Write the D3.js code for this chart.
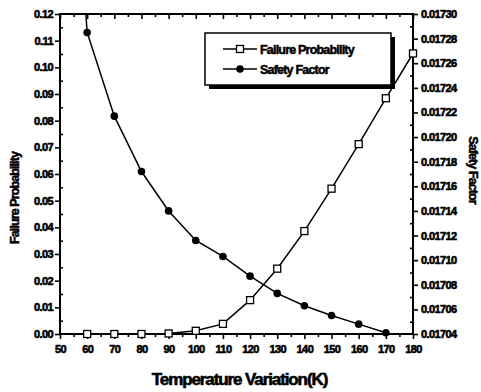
<!DOCTYPE html>
<html>
<head>
<meta charset="utf-8">
<script src="https://cdn.jsdelivr.net/npm/d3@7"></script>
<style>
  body { margin: 0; background: #fff; }
  svg text { font-family: "Liberation Sans", Arial, sans-serif; font-weight: bold; fill: #000; stroke: #000; stroke-width: 0.5px; }
</style>
</head>
<body>
<svg id="chart" width="481" height="392"></svg>
<script>
// Data
const temps = [50, 60, 70, 80, 90, 100, 110, 120, 130, 140, 150, 160, 170, 180];
const failureProb = [null, 0.0, 0.0, 0.0, 0.0002, 0.0012, 0.0038, 0.0127, 0.0245, 0.0386, 0.0545, 0.0712, 0.0884, 0.1052];
const safetyFactor = [0.01760, 0.017285, 0.017217, 0.017172, 0.017140, 0.017116, 0.017103, 0.017087, 0.017073, 0.017063, 0.017055, 0.017048, 0.017041, 0.017034];

const xTicks = d3.range(50, 181, 10);
const leftTicks = d3.range(0, 0.1201, 0.01);
const rightTicks = d3.range(0.01704, 0.017301, 0.00002);

const seriesNames = ["Failure Probability", "Safety Factor"];
const xTitle = "Temperature Variation(K)";

// Chart setup
const svg = d3.select("#chart");
const margin = { top: 14, right: 68, bottom: 58, left: 60 };
const width = 481, height = 392;

const x = d3.scaleLinear().domain([50, 180]).range([margin.left, width - margin.right]);
const yL = d3.scaleLinear().domain([0, 0.12]).range([height - margin.bottom, margin.top]);
const yR = d3.scaleLinear().domain([0.01704, 0.0173]).range([height - margin.bottom, margin.top]);

// clip for data lines
svg.append("clipPath").attr("id", "plot-clip")
  .append("rect")
  .attr("x", margin.left).attr("y", margin.top)
  .attr("width", x.range()[1] - margin.left)
  .attr("height", yL.range()[0] - margin.top);

// Axes helper
function styleAxis(g) {
  g.select(".domain").remove();
  g.selectAll(".tick line").attr("stroke", "#000").attr("stroke-width", 1.6);
  g.selectAll(".tick text")
    .style("font-family", "'Liberation Sans', Arial, sans-serif")
    .style("font-weight", "bold")
    .style("font-size", "11px")
    .style("letter-spacing", "-0.6px")
    .style("stroke", "#000")
    .style("stroke-width", "0.6px");
}

// minor ticks
const minorX = d3.range(55, 180, 10);
const minorL = d3.range(0.005, 0.12, 0.01);
const minorR = d3.range(0.01705, 0.0173, 0.00002);

// bottom axis
svg.append("g")
  .attr("transform", `translate(0,${yL.range()[0]})`)
  .call(d3.axisBottom(x).tickValues(xTicks).tickSize(5).tickPadding(6).tickFormat(d3.format("d")))
  .call(styleAxis);
svg.append("g")
  .attr("transform", `translate(0,${yL.range()[0]})`)
  .call(d3.axisBottom(x).tickValues(minorX).tickSize(3).tickFormat(""))
  .call(styleAxis);

// top axis (ticks inward, no labels)
svg.append("g")
  .attr("transform", `translate(0,${margin.top})`)
  .call(d3.axisBottom(x).tickValues(xTicks).tickSize(5).tickFormat(""))
  .call(styleAxis);
svg.append("g")
  .attr("transform", `translate(0,${margin.top})`)
  .call(d3.axisBottom(x).tickValues(minorX).tickSize(3).tickFormat(""))
  .call(styleAxis);

// left axis
svg.append("g")
  .attr("transform", `translate(${margin.left},0)`)
  .call(d3.axisLeft(yL).tickValues(leftTicks).tickSize(5).tickPadding(2).tickFormat(d3.format(".2f")))
  .call(styleAxis);
svg.append("g")
  .attr("transform", `translate(${margin.left},0)`)
  .call(d3.axisRight(yL).tickValues(minorL).tickSize(3).tickFormat(""))
  .call(styleAxis);

// right axis
const xr = x.range()[1];
svg.append("g")
  .attr("transform", `translate(${xr},0)`)
  .call(d3.axisRight(yR).tickValues(rightTicks).tickSize(5).tickPadding(3).tickFormat(d3.format(".5f")))
  .call(styleAxis);
svg.append("g")
  .attr("transform", `translate(${xr},0)`)
  .call(d3.axisLeft(yR).tickValues(minorR).tickSize(3).tickFormat(""))
  .call(styleAxis);

// frame
svg.append("rect")
  .attr("x", margin.left).attr("y", margin.top)
  .attr("width", xr - margin.left)
  .attr("height", yL.range()[0] - margin.top)
  .attr("fill", "none").attr("stroke", "#000").attr("stroke-width", 2);

// data
const failData = temps.map((t, i) => ({ t, v: failureProb[i] })).filter(d => d.v !== null);
const safeData = temps.map((t, i) => ({ t, v: safetyFactor[i] }));

const plot = svg.append("g").attr("clip-path", "url(#plot-clip)");

plot.append("path")
  .datum(failData)
  .attr("fill", "none").attr("stroke", "#000").attr("stroke-width", 1.5)
  .attr("d", d3.line().x(d => x(d.t)).y(d => yL(d.v)));

plot.append("path")
  .datum(safeData)
  .attr("fill", "none").attr("stroke", "#000").attr("stroke-width", 1.5)
  .attr("d", d3.line().x(d => x(d.t)).y(d => yR(d.v)));

svg.append("g").selectAll("rect")
  .data(failData)
  .join("rect")
  .attr("x", d => x(d.t) - 3.5).attr("y", d => yL(d.v) - 3.5)
  .attr("width", 7).attr("height", 7)
  .attr("fill", "#fff").attr("stroke", "#000").attr("stroke-width", 1.3);

svg.append("g").selectAll("circle")
  .data(safeData.filter(d => d.v >= 0.01704 && d.v <= 0.0173))
  .join("circle")
  .attr("cx", d => x(d.t)).attr("cy", d => yR(d.v))
  .attr("r", 3.8)
  .attr("fill", "#000");

// legend
const lg = svg.append("g");
lg.append("rect").attr("x", 209).attr("y", 37).attr("width", 186).attr("height", 52).attr("fill", "#000");
lg.append("rect").attr("x", 205).attr("y", 33).attr("width", 186).attr("height", 52)
  .attr("fill", "#fff").attr("stroke", "#000").attr("stroke-width", 1.5);

[49, 69].forEach((ly, i) => {
  lg.append("line").attr("x1", 223).attr("x2", 257).attr("y1", ly).attr("y2", ly)
    .attr("stroke", "#000").attr("stroke-width", 1.5);
  if (i === 0) {
    lg.append("rect").attr("x", 236.5).attr("y", ly - 3.5).attr("width", 7).attr("height", 7)
      .attr("fill", "#fff").attr("stroke", "#000").attr("stroke-width", 1.3);
  } else {
    lg.append("circle").attr("cx", 240).attr("cy", ly).attr("r", 3.8).attr("fill", "#000");
  }
  lg.append("text").attr("x", 260).attr("y", ly + 4.5)
    .style("font-size", "12.5px").style("letter-spacing", "-0.8px")
    .text(seriesNames[i]);
});

// axis titles
svg.append("text")
  .attr("x", (margin.left + xr) / 2 + 3).attr("y", 385)
  .attr("text-anchor", "middle")
  .style("font-size", "17px").style("letter-spacing", "-1.1px")
  .style("stroke-width", "0.6px")
  .text(xTitle);

svg.append("text")
  .attr("transform", "translate(19,198) rotate(-90)")
  .attr("text-anchor", "middle")
  .style("font-size", "12.5px").style("letter-spacing", "-0.9px")
  .text(seriesNames[0]);

svg.append("text")
  .attr("transform", "translate(469,170) rotate(90)")
  .attr("text-anchor", "middle")
  .style("font-size", "12.5px").style("letter-spacing", "-0.9px")
  .text(seriesNames[1]);
</script>
</body>
</html>
